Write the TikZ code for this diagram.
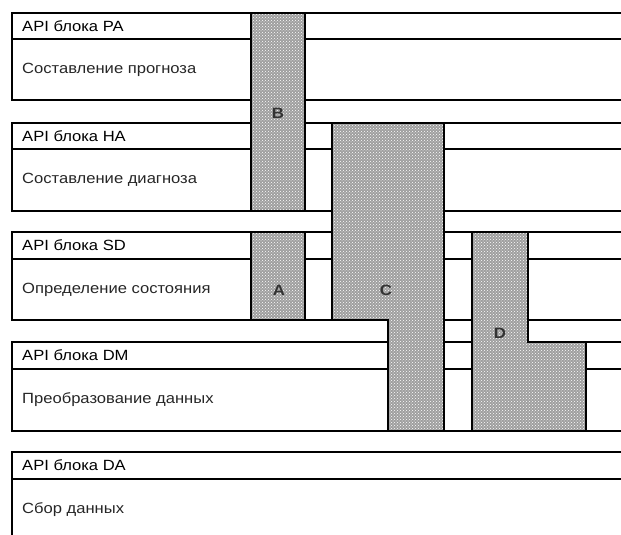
\documentclass[tikz,border=0pt]{standalone}
\usepackage{fontspec}
\setmainfont{Liberation Sans}[FakeStretch=1.12]
\usetikzlibrary{patterns}
\begin{document}
\begin{tikzpicture}[x=1pt,y=-1pt,
  layer/.style={line width=2.4pt},
  column/.style={draw=black,line width=2.4pt,preaction={fill=gray!75},
    pattern=crosshatch dots,pattern color=white},
  apitext/.style={anchor=west,inner sep=0pt,font=\fontsize{14.8}{16}\selectfont},
  tasktext/.style={anchor=west,inner sep=0pt,text=black!85,font=\fontsize{14.8}{16}\selectfont},
  colname/.style={inner sep=0pt,text=black!80,font=\fontsize{15}{16}\selectfont\bfseries}]
  \clip (0,0) rectangle (621,535);
  % layers
  \draw[layer] (630,13) -| (12,100) -- (630,100);
  \draw[layer] (12,39) -- (630,39);
  \draw[layer] (630,123) -| (12,211) -- (630,211);
  \draw[layer] (12,149) -- (630,149);
  \draw[layer] (630,232) -| (12,320) -- (630,320);
  \draw[layer] (12,259) -- (630,259);
  \draw[layer] (630,342) -| (12,431) -- (630,431);
  \draw[layer] (12,369) -- (630,369);
  \draw[layer] (630,452) -| (12,545);
  \draw[layer] (12,479) -- (630,479);
  \node[apitext] (apiPA) at (22,26) {API блока PA};
  \node[tasktext] (taskPA) at (22,69.5) {Составление прогноза};
  \node[apitext] (apiHA) at (22,136) {API блока HA};
  \node[tasktext] (taskHA) at (22,180) {Составление диагноза};
  \node[apitext] (apiSD) at (22,245.5) {API блока SD};
  \node[tasktext] (taskSD) at (22,289.5) {Определение состояния};
  \node[apitext] (apiDM) at (22,355.5) {API блока DM};
  \node[tasktext] (taskDM) at (22,400) {Преобразование данных};
  \node[apitext] (apiDA) at (22,465.5) {API блока DA};
  \node[tasktext] (taskDA) at (22,510) {Сбор данных};
  % columns
  \draw[column] (251,13) rectangle (305,211);
  \draw[column] (251,232) rectangle (305,320);
  \draw[column] (332,123) -- (444,123) -- (444,431) -- (388,431)
    -- (388,320) -- (332,320) -- cycle;
  \draw[column] (472,232) -- (528,232) -- (528,342) -- (586,342)
    -- (586,431) -- (472,431) -- cycle;
  \node[colname] (colB) at (278,113) {B};
  \node[colname] (colA) at (279,290) {A};
  \node[colname] (colC) at (386,290) {C};
  \node[colname] (colD) at (500,333) {D};
\end{tikzpicture}
\end{document}
